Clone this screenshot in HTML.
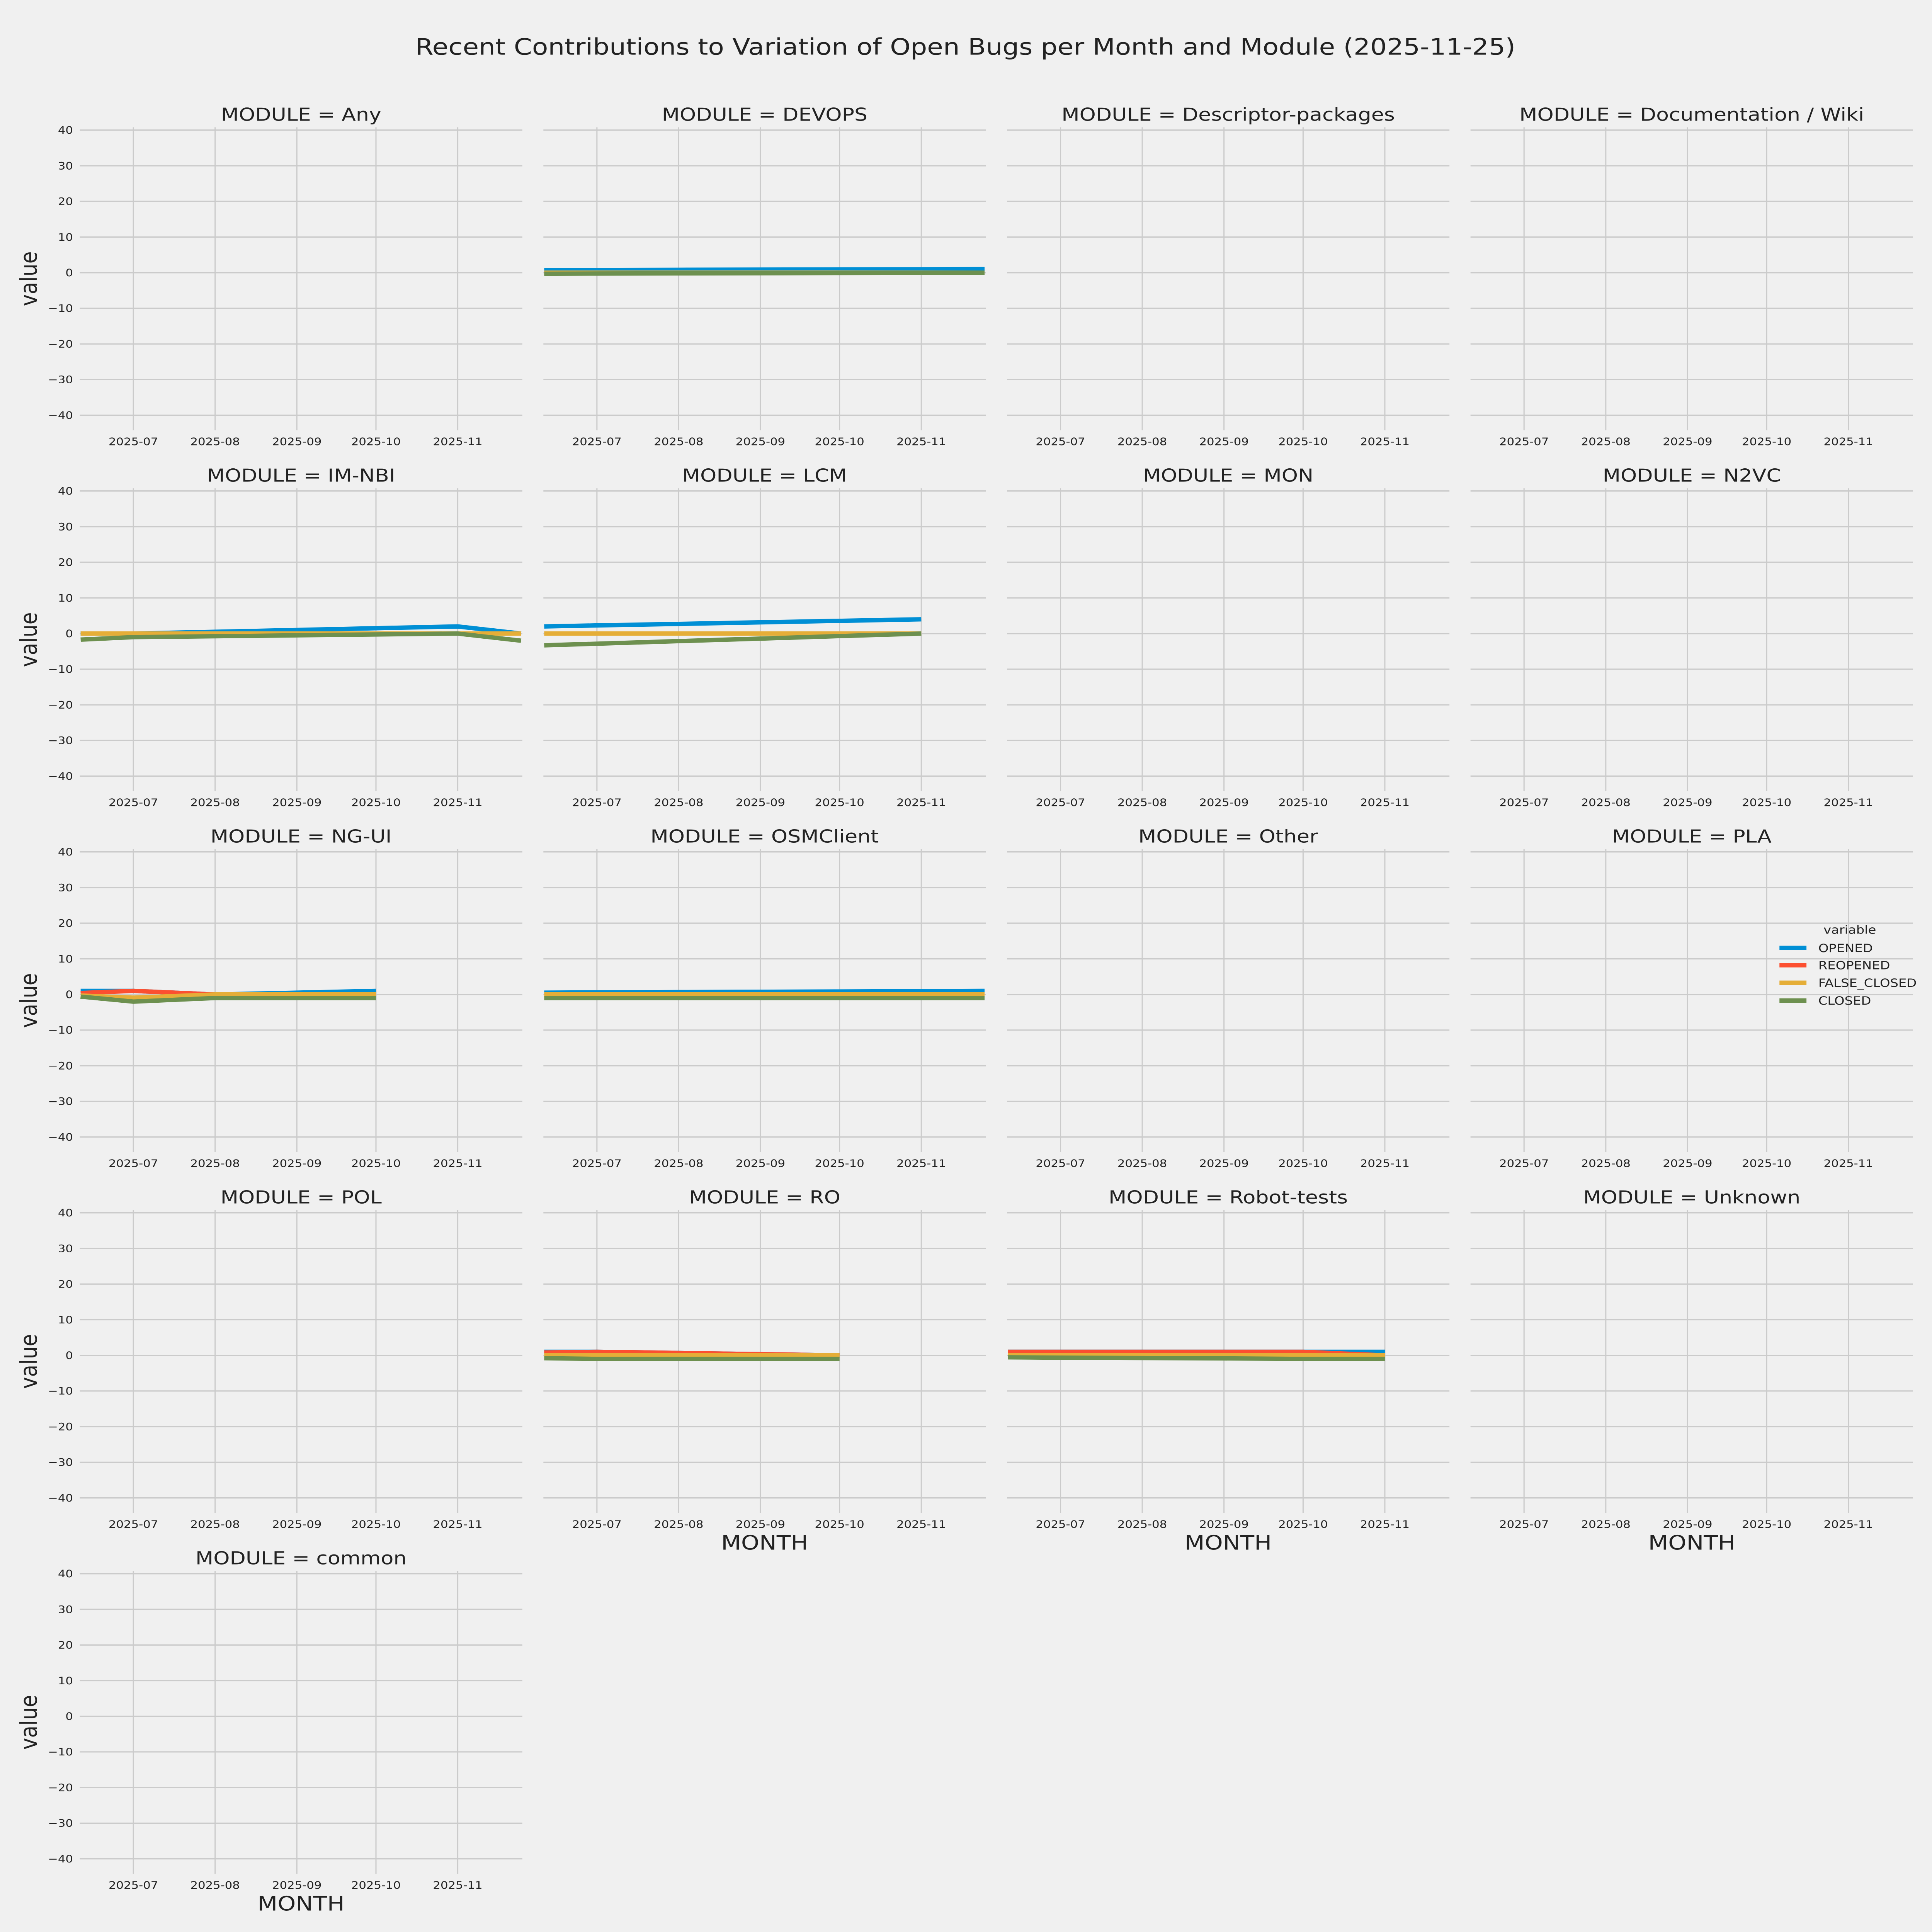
<!DOCTYPE html>
<html><head><meta charset="utf-8"><style>
html,body{margin:0;padding:0;background:#f0f0f0;overflow:hidden;width:100%;height:100%;}
svg{display:block;width:100vw;height:100vh;font-family:"DejaVu Sans","Liberation Sans",sans-serif;}
</style></head><body>
<svg id="chart" viewBox="0 0 6510 7500" preserveAspectRatio="none" xmlns="http://www.w3.org/2000/svg">
<rect width="6510" height="7500" fill="#f0f0f0"/>
<text x="3253" y="212" font-size="88" text-anchor="middle" fill="#222">Recent Contributions to Variation of Open Bugs per Month and Module (2025-11-25)</text>
</svg>
<script>
const dates = ["2025-06-11","2025-07-01","2025-08-01","2025-09-01","2025-10-01","2025-11-01","2025-11-25"];
const modules = ["Any","DEVOPS","Descriptor-packages","Documentation / Wiki","IM-NBI","LCM","MON","N2VC","NG-UI","OSMClient","Other","PLA","POL","RO","Robot-tests","Unknown","common"];
const seriesNames = ["OPENED","REOPENED","FALSE_CLOSED","CLOSED"];
const xTickLabels = ["2025-07","2025-08","2025-09","2025-10","2025-11"];
const xTickDates = ["2025-07-01","2025-08-01","2025-09-01","2025-10-01","2025-11-01"];
const yTicks = [40,30,20,10,0,-10,-20,-30,-40];
const opened = {
  "DEVOPS":[0.7,0.75,0.8,0.85,0.9,0.95,1],
  "IM-NBI":[0,0,0.5,1,1.5,2,0],
  "LCM":[2,2.28,2.71,3.15,3.57,4,null],
  "NG-UI":[1,1,0,0.5,1,null,null],
  "OSMClient":[0.5,0.58,0.67,0.75,0.83,0.92,1],
  "RO":[1,1,0.67,0.33,0,null,null],
  "Robot-tests":[1,1,1,1,1,1,null]
};
const reopened = {
  "NG-UI":[0.4,1,0,0,0,null,null],
  "RO":[0.8,1,0.67,0.33,0,null,null],
  "Robot-tests":[1,1,1,1,1,0,null]
};
const falseClosed = {
  "DEVOPS":[0,0,0,0,0,0,0],
  "IM-NBI":[0,0,0,0,0,0,0],
  "LCM":[0,0,0,0,0,0,null],
  "NG-UI":[-0.3,-0.9,0,0,0,null,null],
  "OSMClient":[0,0,0,0,0,0,0],
  "RO":[0,0,0,0,0,null,null],
  "Robot-tests":[0,0,0,0,0,0,null]
};
const closed = {
  "DEVOPS":[-0.3,-0.25,-0.2,-0.15,-0.1,-0.05,0],
  "IM-NBI":[-1.7,-1,-0.75,-0.5,-0.25,0,-2],
  "LCM":[-3.3,-2.84,-2.12,-1.41,-0.71,0,null],
  "NG-UI":[-0.6,-2,-1,-1,-1,null,null],
  "OSMClient":[-1,-1,-1,-1,-1,-1,-1],
  "RO":[-0.8,-1,-1,-1,-1,null,null],
  "Robot-tests":[-0.55,-0.65,-0.75,-0.85,-1,-1,null]
};
const colors = ["#008fd5","#fc4f30","#e5ae38","#6d904f"];
const seriesData = [opened, reopened, falseClosed, closed];

const NS="http://www.w3.org/2000/svg";
const svg=document.getElementById("chart");
function mk(tag,attrs,parent){const e=document.createElementNS(NS,tag);for(const k in attrs)e.setAttribute(k,attrs[k]);(parent||svg).appendChild(e);return e;}
const AX_W=1491, AX_H=1176, COL0=269, COLP=1562, ROW0=494, ROWP=1401;
const dayMs=86400000;
const tMin=Date.UTC(2025,5,10)+0.7*dayMs, tMax=Date.UTC(2025,10,25)+0.5*dayMs;
function xs(d){const t=Date.parse(d+"T00:00:00Z");return (t-tMin)/(tMax-tMin)*AX_W;}
function ys(v){return (40.8-v)/(40.8+44.2)*AX_H;}
const minus=s=>String(s).replace("-","\u2212");

modules.forEach((m,i)=>{
  const r=Math.floor(i/4), c=i%4;
  const L=COL0+c*COLP, T=ROW0+r*ROWP;
  const g=mk("g",{transform:`translate(${L},${T})`});
  
  
  yTicks.forEach(v=>{
    const ln=mk("line",{x1:0,x2:AX_W,y1:ys(v),y2:ys(v),stroke:"#cbcbcb","stroke-width":5},g);
    
    
    if(c===0){
      const t=mk("text",{x:-23,y:ys(v)+14,"font-size":40,"text-anchor":"end",fill:"#222"},g);
      t.textContent=minus(v);
      
      
    }
  });
  xTickDates.forEach((d,k)=>{
    const ln=mk("line",{x1:xs(d),x2:xs(d),y1:0,y2:AX_H,stroke:"#cbcbcb","stroke-width":4},g);
    
    
    const t=mk("text",{x:xs(d),y:AX_H+58,"font-size":40,"text-anchor":"middle",fill:"#222"},g);
    t.textContent=xTickLabels[k];
    
    
  });
  const tt=mk("text",{x:AX_W/2,y:-25,"font-size":70,"text-anchor":"middle",fill:"#222"},g);
  tt.textContent="MODULE = "+m;
  
  
  if(c===0){
    const yl=mk("text",{x:0,y:0,"font-size":78,"text-anchor":"middle",fill:"#222",transform:`translate(${98-L+26},${AX_H/2}) rotate(-90)`},g);
    yl.textContent="value";
    
    
  }
  if(r===3 && c>0 || r===4){
    const xl=mk("text",{x:AX_W/2,y:AX_H+143,"font-size":78,"text-anchor":"middle",fill:"#222"},g);
    xl.textContent="MONTH";
    
    
  }
  seriesData.forEach((sd,si)=>{
    const vals=sd[m]; if(!vals) return;
    let dstr="", pen=false;
    vals.forEach((v,k)=>{
      if(v===null){pen=false;return;}
      dstr+=(pen?"L":"M")+xs(dates[k]).toFixed(1)+","+ys(v).toFixed(1);
      pen=true;
    });
    const p=mk("path",{d:dstr,fill:"none",stroke:colors[si],"stroke-width":17,"stroke-linejoin":"miter"},g);
    
    
  });
});

const lg=mk("g",{});


const lt=mk("text",{x:6233,y:3625,"font-size":44,"text-anchor":"middle",fill:"#222"},lg);
lt.textContent="variable";


const legY=[3680,3747,3815,3884];
seriesNames.forEach((n,i)=>{
  const ln=mk("line",{x1:5996,x2:6087,y1:legY[i],y2:legY[i],stroke:colors[i],"stroke-width":17},lg);
  
  
  const t=mk("text",{x:6127,y:legY[i]+16,"font-size":44,fill:"#222"},lg);
  t.textContent=n;
  
  
});
</script>
</body></html>
